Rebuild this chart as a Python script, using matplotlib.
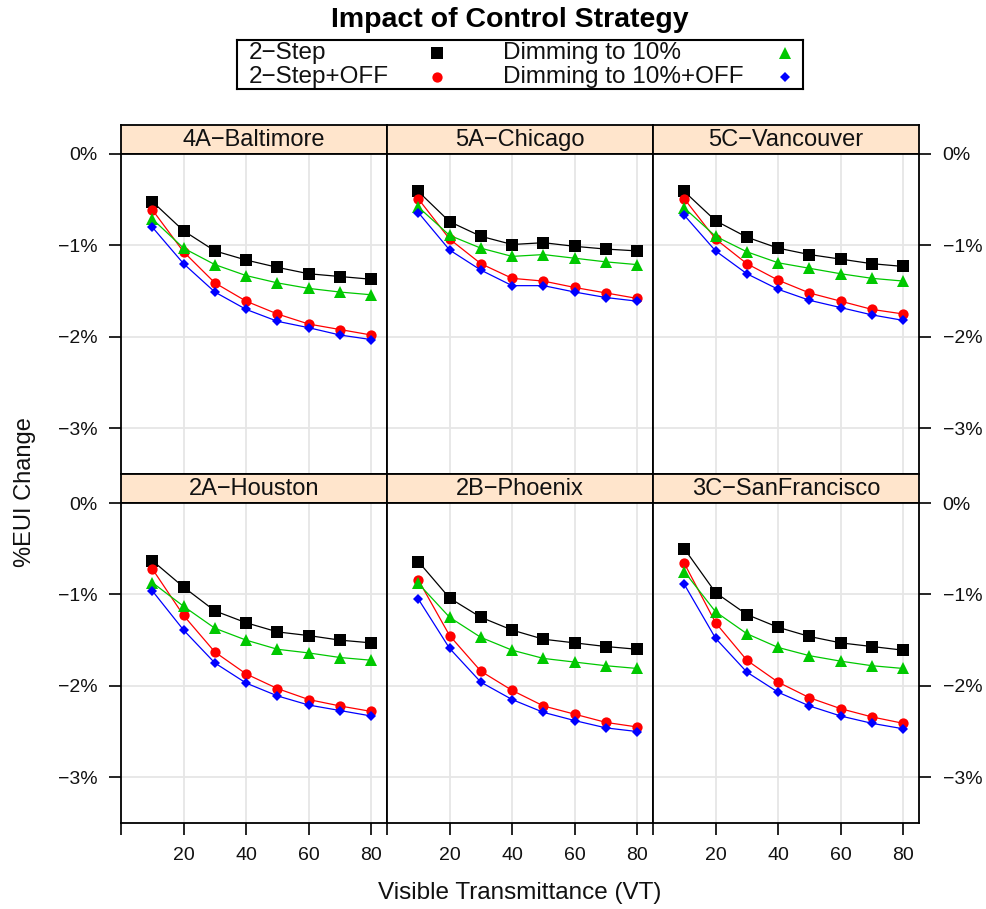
import matplotlib
matplotlib.use("Agg")
import matplotlib.pyplot as plt

plt.rcParams['font.family'] = ['Liberation Sans', 'DejaVu Sans']

# ---- data -------------------------------------------------------------
vt = [10, 20, 30, 40, 50, 60, 70, 80]

series_names = ["2\u2212Step", "2\u2212Step+OFF", "Dimming to 10%", "Dimming to 10%+OFF"]

cities_top = ["4A\u2212Baltimore", "5A\u2212Chicago", "5C\u2212Vancouver"]
cities_bottom = ["2A\u2212Houston", "2B\u2212Phoenix", "3C\u2212SanFrancisco"]

# % EUI change per city, one list per control strategy
baltimore_2step     = [-0.52, -0.84, -1.06, -1.16, -1.24, -1.31, -1.34, -1.37]
baltimore_2step_off = [-0.61, -1.07, -1.41, -1.61, -1.75, -1.86, -1.92, -1.98]
baltimore_dim       = [-0.71, -1.03, -1.21, -1.33, -1.41, -1.47, -1.51, -1.54]
baltimore_dim_off   = [-0.80, -1.20, -1.51, -1.70, -1.83, -1.90, -1.98, -2.03]

chicago_2step     = [-0.41, -0.74, -0.90, -0.99, -0.97, -1.01, -1.04, -1.06]
chicago_2step_off = [-0.49, -0.93, -1.20, -1.36, -1.39, -1.46, -1.52, -1.58]
chicago_dim       = [-0.58, -0.89, -1.03, -1.12, -1.10, -1.14, -1.18, -1.21]
chicago_dim_off   = [-0.64, -1.05, -1.27, -1.44, -1.44, -1.51, -1.57, -1.61]

vancouver_2step     = [-0.41, -0.73, -0.91, -1.03, -1.10, -1.15, -1.20, -1.23]
vancouver_2step_off = [-0.49, -0.93, -1.20, -1.38, -1.52, -1.61, -1.70, -1.75]
vancouver_dim       = [-0.59, -0.90, -1.07, -1.19, -1.25, -1.31, -1.36, -1.39]
vancouver_dim_off   = [-0.67, -1.06, -1.31, -1.48, -1.60, -1.68, -1.76, -1.82]

houston_2step     = [-0.63, -0.92, -1.18, -1.31, -1.41, -1.45, -1.50, -1.53]
houston_2step_off = [-0.72, -1.23, -1.63, -1.87, -2.03, -2.15, -2.22, -2.28]
houston_dim       = [-0.87, -1.13, -1.37, -1.50, -1.60, -1.64, -1.69, -1.72]
houston_dim_off   = [-0.96, -1.39, -1.75, -1.97, -2.11, -2.21, -2.27, -2.33]

phoenix_2step     = [-0.64, -1.04, -1.25, -1.39, -1.49, -1.53, -1.57, -1.60]
phoenix_2step_off = [-0.84, -1.45, -1.84, -2.05, -2.22, -2.31, -2.40, -2.45]
phoenix_dim       = [-0.88, -1.25, -1.47, -1.61, -1.70, -1.74, -1.78, -1.81]
phoenix_dim_off   = [-1.05, -1.59, -1.96, -2.15, -2.29, -2.38, -2.46, -2.50]

sanfran_2step     = [-0.50, -0.98, -1.22, -1.36, -1.46, -1.53, -1.57, -1.61]
sanfran_2step_off = [-0.66, -1.31, -1.72, -1.96, -2.13, -2.25, -2.34, -2.41]
sanfran_dim       = [-0.75, -1.19, -1.43, -1.58, -1.67, -1.73, -1.78, -1.81]
sanfran_dim_off   = [-0.89, -1.48, -1.85, -2.07, -2.22, -2.33, -2.41, -2.47]

panel_data = {
    cities_top[0]: [baltimore_2step, baltimore_2step_off, baltimore_dim, baltimore_dim_off],
    cities_top[1]: [chicago_2step, chicago_2step_off, chicago_dim, chicago_dim_off],
    cities_top[2]: [vancouver_2step, vancouver_2step_off, vancouver_dim, vancouver_dim_off],
    cities_bottom[0]: [houston_2step, houston_2step_off, houston_dim, houston_dim_off],
    cities_bottom[1]: [phoenix_2step, phoenix_2step_off, phoenix_dim, phoenix_dim_off],
    cities_bottom[2]: [sanfran_2step, sanfran_2step_off, sanfran_dim, sanfran_dim_off],
}

y_ticks = [0, -1, -2, -3]
y_ticklabels = ["0%", "\u22121%", "\u22122%", "\u22123%"]
x_ticks = [0, 20, 40, 60, 80]
x_ticklabels = ["", "20", "40", "60", "80"]

# ---- styling ----------------------------------------------------------
colors = ["black", "#FF0000", "#00C800", "#0000FF"]
markers = ["s", "o", "^", "D"]
msizes = [8.0, 7.4, 9.0, 5.2]
strip_color = "#FFE5CC"
grid_color = "#E6E6E6"
text_color = "#111111"

W, H = 987, 909
fig = plt.figure(figsize=(W / 100, H / 100), dpi=100)


def px_rect(x0, y0, x1, y1):
    """Convert a pixel box (top-left origin) to figure fraction."""
    return [x0 / W, 1 - y1 / H, (x1 - x0) / W, (y1 - y0) / H]


left, right = 121, 919
pw = (right - left) / 3
strip_h = 29
panel_h = 320
top = 125

rows = [cities_top, cities_bottom]
for r, row in enumerate(rows):
    s_top = top + r * (strip_h + panel_h)
    p_top = s_top + strip_h
    for c, city in enumerate(row):
        x0 = left + c * pw
        # strip with the city name
        sax = fig.add_axes(px_rect(x0, s_top, x0 + pw, p_top))
        sax.set_facecolor(strip_color)
        sax.set_xticks([]); sax.set_yticks([])
        for sp in sax.spines.values():
            sp.set_linewidth(1.3)
        sax.text(0.5, 0.47, city, ha="center", va="center", fontsize=17,
                 color=text_color, transform=sax.transAxes)

        ax = fig.add_axes(px_rect(x0, p_top, x0 + pw, p_top + panel_h))
        ax.set_xlim(0, 85)
        ax.set_ylim(-3.5, 0)
        for sp in ax.spines.values():
            sp.set_linewidth(1.3)
        for xv in x_ticks[1:]:
            ax.axvline(xv, color=grid_color, lw=1.3, zorder=0)
        for yv in y_ticks[1:]:
            ax.axhline(yv, color=grid_color, lw=1.3, zorder=0)

        for vals, col, mk, ms in zip(panel_data[city], colors, markers, msizes):
            ax.plot(vt, vals, color=col, lw=0.9, marker=mk, markersize=ms,
                    markeredgewidth=0, zorder=3)

        ax.set_yticks(y_ticks)
        ax.set_xticks(x_ticks)
        ax.tick_params(direction="out", length=8.5, width=1.2, labelsize=14,
                       pad=8.5, colors="black", labelcolor=text_color)
        ax.tick_params(left=(c == 0), labelleft=(c == 0),
                       right=(c == 2), labelright=(c == 2),
                       bottom=(r == 1), labelbottom=(r == 1), top=False)
        ax.set_yticklabels(y_ticklabels)
        ax.set_xticklabels(x_ticklabels)

# axis titles
fig.text(25 / W, 1 - 492 / H, "%EUI Change", rotation=90, ha="center",
         va="center", fontsize=17, color=text_color)
fig.text(520 / W, 1 - 893 / H, "Visible Transmittance (VT)", ha="center",
         va="center", fontsize=17.5, color=text_color)
fig.text(510 / W, 1 - 20 / H, "Impact of Control Strategy", ha="center",
         va="center", fontsize=20.5, fontweight="bold", color="black")

# key box above the panels
lx0, ly0, lx1, ly1 = 237, 40, 803, 89
lax = fig.add_axes(px_rect(lx0, ly0, lx1, ly1))
lax.set_xlim(0, lx1 - lx0)
lax.set_ylim(ly1 - ly0, 0)
lax.set_xticks([]); lax.set_yticks([])
for sp in lax.spines.values():
    sp.set_linewidth(1.5)
key_text_x = [12, 266]
key_mark_x = [200, 548]
key_row_y = [12.5, 36.5]
for i, (name, col, mk, ms) in enumerate(zip(series_names, colors, markers, msizes)):
    ci, ri = divmod(i, 2)
    lax.text(key_text_x[ci], key_row_y[ri], name, ha="left", va="center",
             fontsize=17.5, color=text_color)
    lax.plot([key_mark_x[ci]], [key_row_y[ri]], marker=mk, color=col,
             markersize=ms, markeredgewidth=0, linestyle="none")

fig.savefig("out.png", dpi=100)
